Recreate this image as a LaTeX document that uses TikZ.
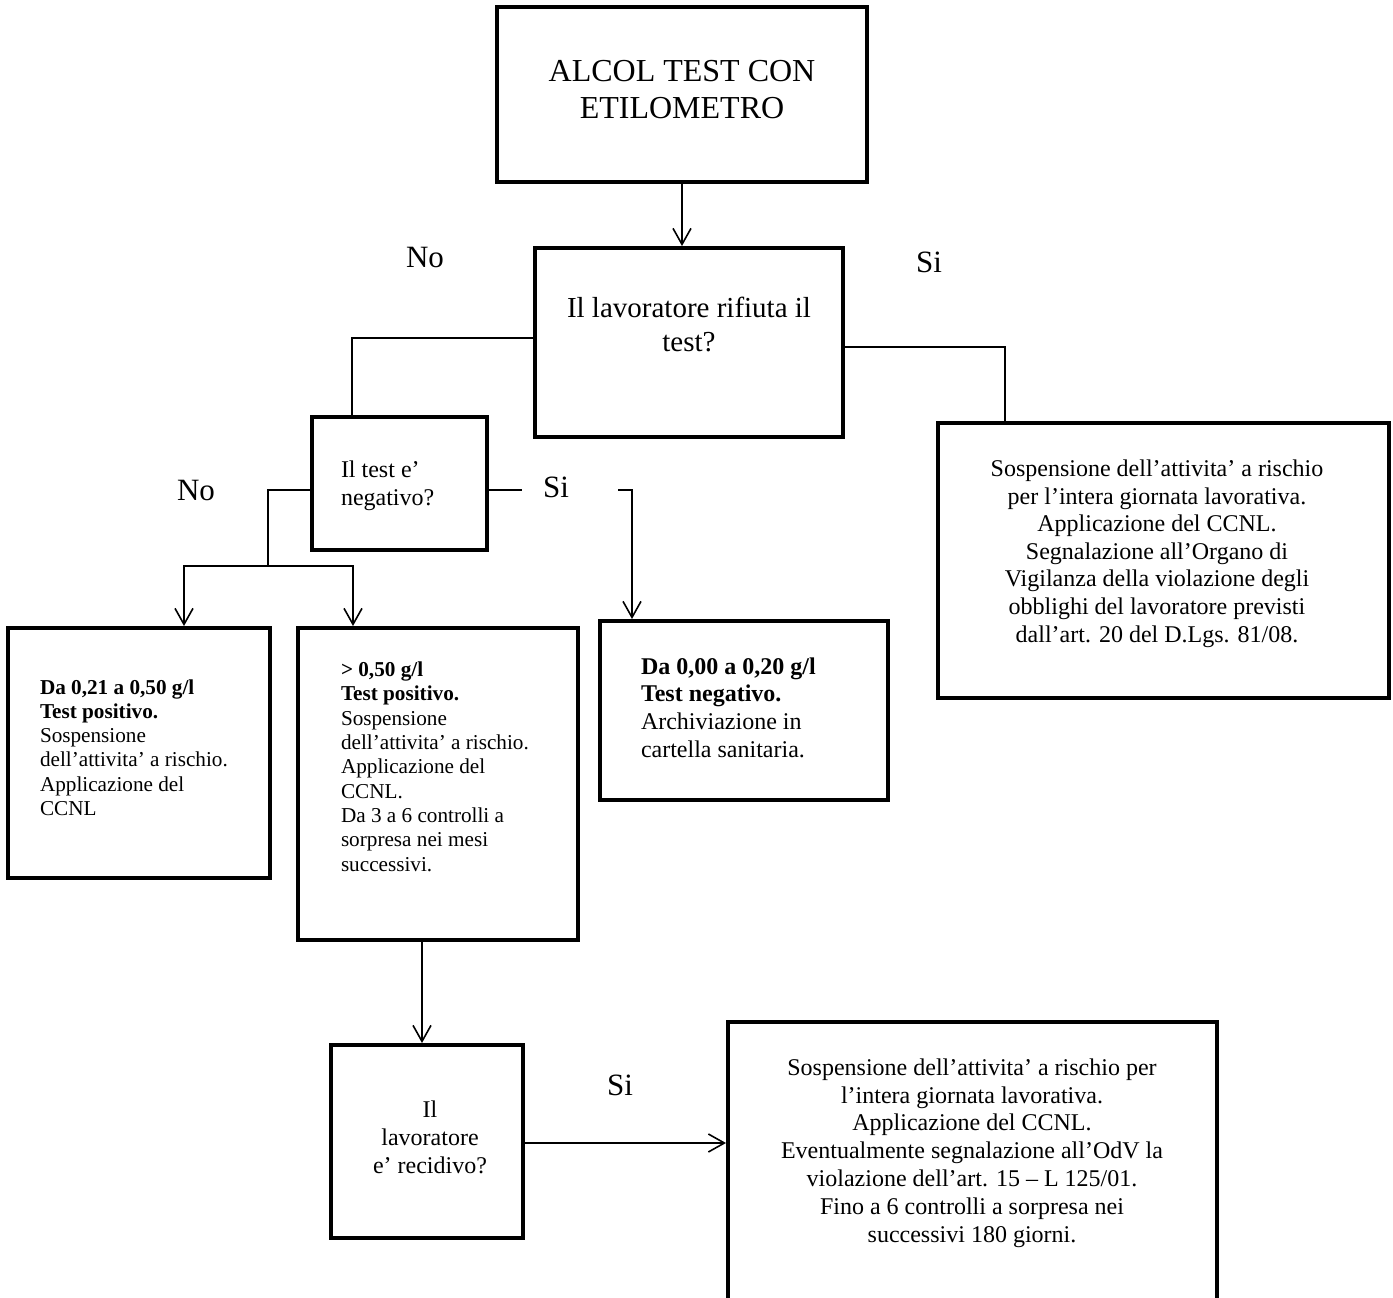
\documentclass[tikz,border=0pt]{standalone}
\usepackage{fontspec}
\setmainfont{Liberation Serif}
\usetikzlibrary{arrows.meta}
\begin{document}
\begin{tikzpicture}[x=1pt,y=-1pt,
  box/.style={draw, line width=4pt, inner sep=0pt},
  txt/.style={inner sep=0pt, outer sep=0pt},
  conn/.style={line width=1.6pt},
  arr/.style={-{Straight Barb[length=16pt,width=18pt,line width=1.6pt]}},
  lbl/.style={inner sep=0pt, anchor=base, font=\fontsize{31}{36}\selectfont},
  fbig/.style={font=\fontsize{32}{36.7}\selectfont},
  fq/.style={font=\fontsize{29}{34}\selectfont},
  fmid/.style={font=\fontsize{24}{27.6}\selectfont},
  fsmall/.style={font=\fontsize{21.2}{24.3}\selectfont}]
\useasboundingbox (0,0) rectangle (1393,1298);
% boxes
\node[box, minimum width=370pt, minimum height=175pt] (t) at (682,94.5) {};
\node[box, minimum width=308pt, minimum height=189pt] (q1) at (689,342.5) {};
\node[box, minimum width=175pt, minimum height=133pt] (q2) at (399.5,483.5) {};
\node[box, minimum width=451pt, minimum height=275pt] (d) at (1163.5,560.5) {};
\node[box, minimum width=262pt, minimum height=250pt] (a) at (139,753) {};
\node[box, minimum width=280pt, minimum height=312pt] (b) at (438,784) {};
\node[box, minimum width=288pt, minimum height=179pt] (c) at (744,710.5) {};
\node[box, minimum width=192pt, minimum height=193pt] (e) at (427,1141.5) {};
\node[box, minimum width=489pt, minimum height=282pt] (f) at (972.5,1163) {};
% texts (anchor=base is the baseline of the last line)
\node[txt, fbig, align=center, anchor=base] (tt) at (682,118.4) {ALCOL TEST CON\\ETILOMETRO};
\node[txt, fq, align=center, anchor=base] (tq1) at (689,351) {Il lavoratore rifiuta il\\test?};
\node[txt, fmid, align=left, anchor=base west] (tq2) at (341,505) {Il test e’\\negativo?};
\node[txt, fsmall, align=left, anchor=base west] (ta) at (40,815.5) {\textbf{Da 0,21 a 0,50 g/l}\\\textbf{Test positivo.}\\Sospensione\\dell’attivita’ a rischio.\\Applicazione del\\CCNL};
\node[txt, fsmall, align=left, anchor=base west] (tb) at (341,871) {\textbf{> 0,50 g/l}\\\textbf{Test positivo.}\\Sospensione\\dell’attivita’ a rischio.\\Applicazione del\\CCNL.\\Da 3 a 6 controlli a\\sorpresa nei mesi\\successivi.};
\node[txt, fmid, align=left, anchor=base west] (tc) at (641,757) {\textbf{Da 0,00 a 0,20 g/l}\\\textbf{Test negativo.}\\Archiviazione in\\cartella sanitaria.};
\node[txt, fmid, align=center, anchor=base] (td) at (1157,642) {Sospensione dell’attivita’ a rischio\\per l’intera giornata lavorativa.\\Applicazione del CCNL.\\Segnalazione all’Organo di\\Vigilanza della violazione degli\\obblighi del lavoratore previsti\\dall’art. 20 del D.Lgs. 81/08.};
\node[txt, fmid, align=center, anchor=base] (te) at (430,1173) {Il\\lavoratore\\e’ recidivo?};
\node[txt, font=\fontsize{24}{27.8}\selectfont, align=center, anchor=base] (tf) at (972,1242) {Sospensione dell’attivita’ a rischio per\\l’intera giornata lavorativa.\\Applicazione del CCNL.\\Eventualmente segnalazione all’OdV la\\violazione dell’art. 15 – L 125/01.\\Fino a 6 controlli a sorpresa nei\\successivi 180 giorni.};
% labels
\node[lbl] (no1) at (425,267) {No};
\node[lbl] (si1) at (929,272) {Si};
\node[lbl] (no2) at (196,500) {No};
\node[lbl] (si2) at (556,497) {Si};
\node[lbl] (si3) at (620,1095) {Si};
% connectors
\coordinate (j) at (268,566);
\coordinate (s1) at (522,490);
\coordinate (s2) at (618,490);
\draw[conn,arr] (t.south) -- (t.south |- q1.north);
\draw[conn] (q1.west |- 0,338) -| (352,0 |- q2.north);
\draw[conn] (q1.east |- 0,347) -| (1005,0 |- d.north);
\draw[conn] (q2.west |- 0,490) -| (j);
\draw[conn,arr] (j) -| (184,0 |- a.north);
\draw[conn,arr] (j) -| (353,0 |- b.north);
\draw[conn] (q2.east |- 0,490) -- (s1);
\draw[conn,arr] (s2) -| (632,0 |- c.north);
\draw[conn,arr] (422,0 |- b.south) -- (422,0 |- e.north);
\draw[conn,arr] (e.east |- 0,1143) -- (f.west |- 0,1143);
\end{tikzpicture}
\end{document}
